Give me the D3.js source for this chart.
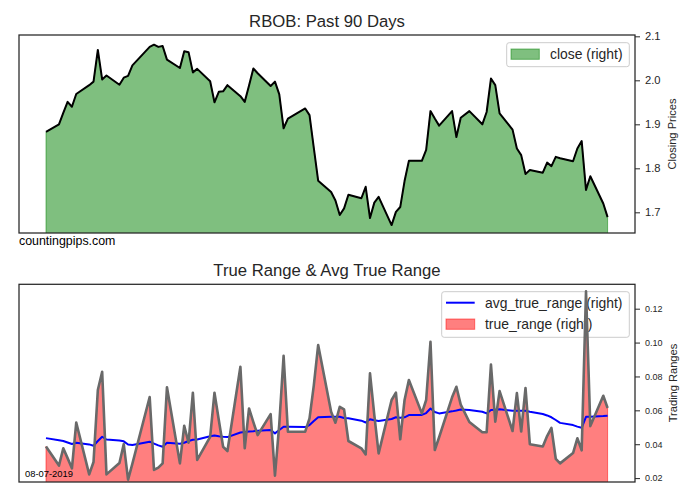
<!DOCTYPE html>
<html>
<head>
<meta charset="utf-8">
<script src="https://cdn.jsdelivr.net/npm/d3@7"></script>
<style>
  html, body { margin: 0; padding: 0; background: #fff; }
  svg { display: block; font-family: "Liberation Sans", Arial, sans-serif; }
</style>
</head>
<body>
<svg id="chart" width="700" height="500"></svg>
<script>
// ---- data ----
const dates = [
  "2019-03-29",
  "2019-04-01","2019-04-02","2019-04-03","2019-04-04","2019-04-05",
  "2019-04-08","2019-04-09","2019-04-10","2019-04-11","2019-04-12",
  "2019-04-15","2019-04-16","2019-04-17","2019-04-18",
  "2019-04-22","2019-04-23","2019-04-24","2019-04-25","2019-04-26",
  "2019-04-29","2019-04-30","2019-05-01","2019-05-02","2019-05-03",
  "2019-05-06","2019-05-07","2019-05-08","2019-05-09","2019-05-10",
  "2019-05-13","2019-05-14","2019-05-15","2019-05-16","2019-05-17",
  "2019-05-20","2019-05-21","2019-05-22","2019-05-23","2019-05-24",
  "2019-05-28","2019-05-29","2019-05-30","2019-05-31",
  "2019-06-03","2019-06-04","2019-06-05","2019-06-06","2019-06-07",
  "2019-06-10","2019-06-11","2019-06-12","2019-06-13","2019-06-14",
  "2019-06-17","2019-06-18","2019-06-19","2019-06-20","2019-06-21",
  "2019-06-24","2019-06-25","2019-06-26","2019-06-27","2019-06-28",
  "2019-07-01","2019-07-02","2019-07-03","2019-07-05",
  "2019-07-08","2019-07-09","2019-07-10","2019-07-11","2019-07-12",
  "2019-07-15","2019-07-16","2019-07-17","2019-07-18","2019-07-19",
  "2019-07-22","2019-07-23","2019-07-24","2019-07-25","2019-07-26",
  "2019-07-29","2019-07-30","2019-07-31","2019-08-01","2019-08-02",
  "2019-08-05","2019-08-06"
];
const close = [
  1.883,
  1.900,1.926,1.951,1.940,1.969,
  1.989,1.997,2.069,2.002,2.011,
  1.990,2.006,2.010,2.034,
  2.076,2.081,2.076,2.078,2.047,
  2.028,2.066,2.064,2.018,2.026,
  1.998,1.950,1.974,1.975,1.989,
  1.964,1.951,1.988,2.027,2.016,
  1.987,1.997,1.968,1.891,1.913,
  1.936,1.921,1.846,1.772,
  1.746,1.727,1.694,1.709,1.740,
  1.732,1.758,1.687,1.722,1.735,
  1.671,1.701,1.712,1.771,1.817,
  1.817,1.842,1.930,1.913,1.897,
  1.930,1.871,1.915,1.930,
  1.900,1.928,2.004,1.989,1.925,
  1.888,1.845,1.830,1.787,1.796,
  1.790,1.813,1.805,1.826,1.823,
  1.816,1.845,1.862,1.751,1.782,
  1.720,1.689
];
const trueRange = [
  0.0387,
  0.0274,0.0376,0.0318,0.0258,0.0528,
  0.0222,0.0295,0.0720,0.0828,0.0222,
  0.0289,0.0401,0.0191,0.0285,
  0.0679,0.0248,0.0262,0.0287,0.0736,
  0.0287,0.0509,0.0409,0.0704,0.0307,
  0.0444,0.0704,0.0543,0.0385,0.0360,
  0.0857,0.0376,0.0611,0.0531,0.0454,
  0.0578,0.0214,0.0519,0.0922,0.0474,
  0.0474,0.0553,0.0749,0.0985,
  0.0592,0.0527,0.0621,0.0606,0.0419,
  0.0376,0.0340,0.0818,0.0572,0.0346,
  0.0661,0.0704,0.0429,0.0661,0.0779,
  0.0582,0.0661,0.1005,0.0366,0.0441,
  0.0677,0.0739,0.0634,0.0531,
  0.0471,0.0471,0.0870,0.0533,0.0714,
  0.0478,0.0702,0.0475,0.0732,0.0400,
  0.0387,0.0448,0.0496,0.0314,0.0287,
  0.0348,0.0435,0.0364,0.1302,0.0507,
  0.0686,0.0614
];
const avgTrueRange = [
  0.0436,
  0.0423,0.0419,0.0410,0.0401,0.0409,
  0.0399,0.0391,0.0419,0.0444,0.0428,
  0.0422,0.0417,0.0398,0.0395,
  0.0415,0.0404,0.0393,0.0385,0.0409,
  0.0403,0.0409,0.0419,0.0426,0.0428,
  0.0447,0.0452,0.0447,0.0444,0.0442,
  0.0469,0.0472,0.0475,0.0477,0.0480,
  0.0484,0.0464,0.0484,0.0503,0.0503,
  0.0501,0.0513,0.0537,0.0559,
  0.0562,0.0562,0.0562,0.0555,0.0553,
  0.0539,0.0528,0.0547,0.0541,0.0537,
  0.0549,0.0559,0.0556,0.0559,0.0572,
  0.0573,0.0584,0.0611,0.0590,0.0582,
  0.0594,0.0599,0.0605,0.0602,
  0.0592,0.0582,0.0602,0.0604,0.0606,
  0.0598,0.0598,0.0598,0.0598,0.0592,
  0.0578,0.0570,0.0559,0.0543,0.0526,
  0.0513,0.0504,0.0497,0.0562,0.0562,
  0.0566,0.0568
];
const closeTicks = [1.7, 1.8, 1.9, 2.0, 2.1];
const rangeTicks = [0.02, 0.04, 0.06, 0.08, 0.10, 0.12];
const closeDomain = [1.653, 2.103];
const rangeDomain = [0.0177, 0.1344];
const titleTop = "RBOB: Past 90 Days";
const titleBottom = "True Range & Avg True Range";
const ylabelTop = "Closing Prices";
const ylabelBottom = "Trading Ranges";
const legendTop = ["close (right)"];
const legendBottom = ["avg_true_range (right)", "true_range (right)"];
const watermark = "countingpips.com";
const dateStamp = "08-07-2019";

// ---- layout ----
const parse = d3.timeParse("%Y-%m-%d");
const rows = dates.map((d, i) => ({
  date: parse(d), close: close[i], tr: trueRange[i], atr: avgTrueRange[i]
}));
const svg = d3.select("#chart");
const ink = "#262626";
const L = 19, R = 635;
const top1 = { t: 35, b: 233 };
const top2 = { t: 284.3, b: 482 };

const x = d3.scaleTime()
  .domain(d3.extent(rows, d => d.date))
  .range([46, 607.6]);

const y1 = d3.scaleLinear().domain(closeDomain).range([top1.b, top1.t]);
const y2 = d3.scaleLinear().domain(rangeDomain).range([top2.b, top2.t]);

const defs = svg.append("defs");
defs.append("clipPath").attr("id", "clip1").append("rect")
  .attr("x", L).attr("y", top1.t).attr("width", R - L).attr("height", top1.b - top1.t);
defs.append("clipPath").attr("id", "clip2").append("rect")
  .attr("x", L).attr("y", top2.t).attr("width", R - L).attr("height", top2.b - top2.t);

// ---------- top panel ----------
const g1 = svg.append("g").attr("clip-path", "url(#clip1)");
g1.append("path").datum(rows)
  .attr("d", d3.area().x(d => x(d.date)).y0(top1.b + 5).y1(d => y1(d.close)))
  .attr("fill", "rgba(0,128,0,0.5)")
  .attr("stroke", "rgba(0,128,0,0.5)").attr("stroke-width", 1);
g1.append("path").datum(rows)
  .attr("d", d3.line().x(d => x(d.date)).y(d => y1(d.close)))
  .attr("fill", "none").attr("stroke", "#000").attr("stroke-width", 2)
  .attr("stroke-linejoin", "round");

svg.append("rect").attr("x", L).attr("y", top1.t).attr("width", R - L).attr("height", top1.b - top1.t)
  .attr("fill", "none").attr("stroke", ink).attr("stroke-width", 1.25);

const ax1 = svg.append("g").attr("transform", `translate(${R},0)`)
  .call(d3.axisRight(y1).tickValues(closeTicks).tickFormat(d3.format(".1f")).tickSize(5).tickPadding(5));
ax1.select(".domain").remove();
ax1.selectAll("line").attr("stroke", ink).attr("stroke-width", 1);
ax1.selectAll("text").attr("fill", ink).style("font-size", "11.2px").style("font-family", "Liberation Sans, Arial, sans-serif");

svg.append("text").attr("x", 327).attr("y", 26.7).attr("text-anchor", "middle")
  .attr("fill", ink).style("font-size", "16.7px").text(titleTop);
svg.append("text").attr("transform", `translate(676,134) rotate(-90)`).attr("text-anchor", "middle")
  .attr("fill", ink).style("font-size", "11.1px").text(ylabelTop);
svg.append("text").attr("x", 19).attr("y", 245).attr("fill", "#000")
  .style("font-size", "12.4px").text(watermark);

// top legend
const lg1 = svg.append("g");
lg1.append("rect").attr("x", 506.7).attr("y", 42.7).attr("width", 122.6).attr("height", 24)
  .attr("rx", 2.5).attr("fill", "rgba(255,255,255,0.8)").attr("stroke", "#cccccc").attr("stroke-width", 1);
lg1.append("rect").attr("x", 511).attr("y", 49).attr("width", 28.3).attr("height", 10.3)
  .attr("fill", "rgba(0,128,0,0.5)").attr("stroke", "rgba(0,128,0,0.5)").attr("stroke-width", 1);
lg1.append("text").attr("x", 550).attr("y", 59).attr("fill", ink).style("font-size", "13.9px").text(legendTop[0]);

// ---------- bottom panel ----------
// legend is underneath the data (belongs to the primary axes)
const lg2 = svg.append("g");
lg2.append("rect").attr("x", 441.7).attr("y", 291.7).attr("width", 187.6).attr("height", 45.6)
  .attr("rx", 2.5).attr("fill", "rgba(255,255,255,0.8)").attr("stroke", "#cccccc").attr("stroke-width", 1);
lg2.append("line").attr("x1", 446).attr("x2", 474.7).attr("y1", 302.7).attr("y2", 302.7)
  .attr("stroke", "#0000ff").attr("stroke-width", 2);
lg2.append("rect").attr("x", 446).attr("y", 319).attr("width", 28.7).attr("height", 10.3)
  .attr("fill", "rgba(255,0,0,0.5)").attr("stroke", "rgba(255,0,0,0.5)").attr("stroke-width", 1);
lg2.append("text").attr("x", 485).attr("y", 308).attr("fill", ink).style("font-size", "13.9px").text(legendBottom[0]);
lg2.append("text").attr("x", 485).attr("y", 329).attr("fill", ink).style("font-size", "13.9px").text(legendBottom[1]);

const g2 = svg.append("g").attr("clip-path", "url(#clip2)");
g2.append("path").datum(rows)
  .attr("d", d3.area().x(d => x(d.date)).y0(top2.b + 5).y1(d => y2(d.tr)))
  .attr("fill", "rgba(255,0,0,0.5)")
  .attr("stroke", "rgba(255,0,0,0.5)").attr("stroke-width", 1);
g2.append("path").datum(rows)
  .attr("d", d3.line().x(d => x(d.date)).y(d => y2(d.atr)))
  .attr("fill", "none").attr("stroke", "#0000ff").attr("stroke-width", 2)
  .attr("stroke-linejoin", "round");
g2.append("path").datum(rows)
  .attr("d", d3.line().x(d => x(d.date)).y(d => y2(d.tr)))
  .attr("fill", "none").attr("stroke", "#696969").attr("stroke-width", 2.6)
  .attr("stroke-linejoin", "round");

svg.append("rect").attr("x", L).attr("y", top2.t).attr("width", R - L).attr("height", top2.b - top2.t)
  .attr("fill", "none").attr("stroke", ink).attr("stroke-width", 1.25);

const ax2 = svg.append("g").attr("transform", `translate(${R},0)`)
  .call(d3.axisRight(y2).tickValues(rangeTicks).tickFormat(d3.format(".2f")).tickSize(5).tickPadding(5));
ax2.select(".domain").remove();
ax2.selectAll("line").attr("stroke", ink).attr("stroke-width", 1);
ax2.selectAll("text").attr("fill", ink).style("font-size", "9px").style("font-family", "Liberation Sans, Arial, sans-serif");

svg.append("text").attr("x", 327).attr("y", 276).attr("text-anchor", "middle")
  .attr("fill", ink).style("font-size", "16.7px").text(titleBottom);
svg.append("text").attr("transform", `translate(677,383) rotate(-90)`).attr("text-anchor", "middle")
  .attr("fill", ink).style("font-size", "11.1px").text(ylabelBottom);
svg.append("text").attr("x", 25).attr("y", 477.3).attr("fill", "#000")
  .style("font-size", "9.4px").text(dateStamp);
</script>
</body>
</html>
